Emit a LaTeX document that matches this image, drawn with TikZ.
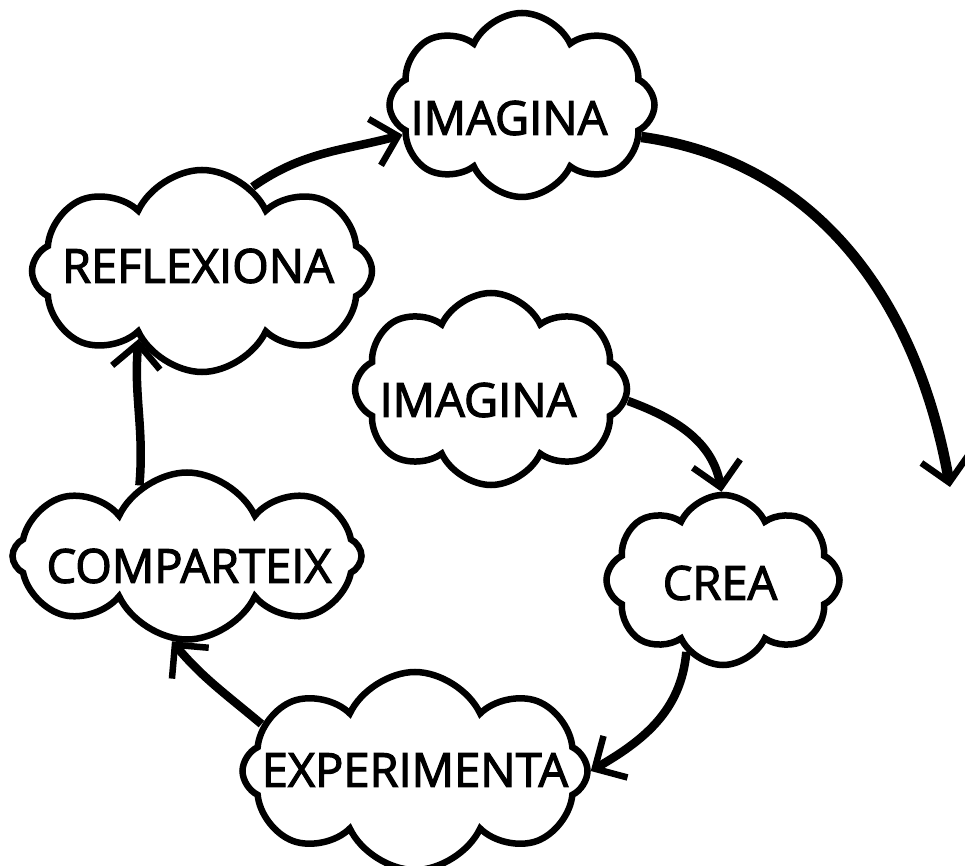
\documentclass[tikz,border=0pt]{standalone}
\usepackage{fontspec}
\newfontfamily\cf{Open Sans}[BoldFont={Open Sans}, BoldFeatures={FakeBold=2.5}]
\usetikzlibrary{shapes.symbols,arrows.meta}
\begin{document}
\begin{tikzpicture}[x=1pt,y=1pt,
  cl/.style={cloud, cloud puffs=8, cloud puff arc=130, draw, line width=6.5pt, fill=white, inner sep=0pt},
  txt/.style={font=\cf\bfseries\fontsize{47}{50}\selectfont, inner sep=0pt},
  arr/.style={line width=8.5pt, -{Straight Barb[length=24pt,width=48pt,line width=6.5pt]}}]
\useasboundingbox[fill=white] (0,0) rectangle (965,865);
% clouds
\node[cl, minimum width=265pt, minimum height=184pt] (img1) at (522,760) {};
\node[cl, minimum width=340pt, minimum height=202pt] (refl) at (202,594) {};
\node[cl, minimum width=272pt, minimum height=192pt] (img2) at (491,476) {};
\node[cl, minimum width=233pt, minimum height=170pt] (crea) at (723,285) {};
\node[cl, minimum width=349pt, minimum height=167pt] (comp) at (187,309) {};
\node[cl, minimum width=345pt, minimum height=198pt] (exp) at (415,94) {};
% texts
\node[txt] (t1) at (509,747) {IMAGINA};
\node[txt] (t2) at (198,599) {REFLEXIONA};
\node[txt] (t3) at (478,465) {IMAGINA};
\node[txt] (t4) at (720,282) {CREA};
\node[txt] (t5) at (189,299) {COMPARTEIX};
\node[txt] (t6) at (415,95) {EXPERIMENTA};
\coordinate (bigend) at (950,378);
% connectors
\draw[arr] (refl.59) to[out=35,in=195] (img1.194);
\draw[arr, line width=10.5pt] (img1.-15) to[out=-8,in=100] (bigend);
\draw[arr] (img2.-5) to[out=-20,in=100] (crea.91);
\draw[arr] (crea.243) to[out=-95,in=30] (exp.0);
\draw[arr] (exp.163) to[out=140,in=-50] (comp.260);
\draw[arr] (comp.124) to[out=85,in=-95] (refl.227);
\end{tikzpicture}
\end{document}
